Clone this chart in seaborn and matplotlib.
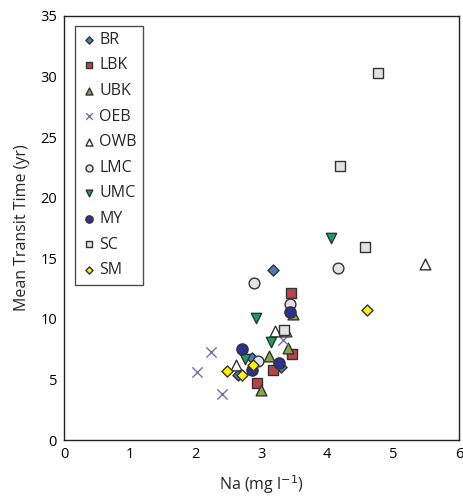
import numpy as np
import pandas as pd
import matplotlib
matplotlib.use("Agg")
import matplotlib.pyplot as plt
import seaborn as sns

sites = ['BR', 'LBK', 'UBK', 'OEB', 'OWB', 'LMC', 'UMC', 'MY', 'SC', 'SM']

# Na (mg/l) and mean transit time (yr) per site
na = {
    'BR':  [3.18, 2.86, 2.64, 3.30],
    'LBK': [3.45, 3.47, 3.17, 2.93],
    'UBK': [3.48, 3.41, 3.12, 3.00],
    'OEB': [2.24, 2.02, 2.40, 3.32],
    'OWB': [5.48, 3.21, 3.37, 2.62],
    'LMC': [4.17, 2.89, 3.44, 2.94],
    'UMC': [4.05, 2.92, 3.15, 2.75],
    'MY':  [3.43, 2.71, 2.86, 3.26],
    'SC':  [4.77, 4.19, 4.57, 3.35],
    'SM':  [4.61, 2.47, 2.70, 2.87],
}
mtt = {
    'BR':  [14.0, 6.8, 5.4, 6.0],
    'LBK': [12.1, 7.1, 5.8, 4.7],
    'UBK': [10.4, 7.6, 6.9, 4.1],
    'OEB': [7.3, 5.6, 3.8, 8.3],
    'OWB': [14.5, 9.0, 9.0, 6.2],
    'LMC': [14.2, 13.0, 11.2, 6.5],
    'UMC': [16.7, 10.1, 8.1, 6.7],
    'MY':  [10.6, 7.5, 5.8, 6.4],
    'SC':  [30.3, 22.6, 15.9, 9.1],
    'SM':  [10.7, 5.7, 5.4, 6.2],
}

colors = {'BR': '#4a7db8', 'LBK': '#b94448', 'UBK': '#8ba64a', 'OEB': '#7a6cb0',
          'OWB': '#ffffff', 'LMC': '#e4e0ea', 'UMC': '#1c9e62', 'MY': '#2a3190',
          'SC': '#e2e2e2', 'SM': '#fff200'}
markers = {'BR': 'D', 'LBK': 's', 'UBK': '^', 'OEB': 'x', 'OWB': '^',
           'LMC': 'o', 'UMC': 'v', 'MY': 'o', 'SC': 's', 'SM': 'D'}
sizes = {'BR': 32, 'LBK': 55, 'UBK': 60, 'OEB': 55, 'OWB': 60,
         'LMC': 60, 'UMC': 55, 'MY': 65, 'SC': 55, 'SM': 32}

rows = []
for s in sites:
    for x, y in zip(na[s], mtt[s]):
        rows.append({'site': s, 'Na': x, 'MTT': y})
df = pd.DataFrame(rows)

sns.set_style("white")
plt.rcParams['font.family'] = ['Open Sans', 'DejaVu Sans']

fig = plt.figure(figsize=(4.64, 4.99), dpi=100)
ax = fig.add_axes([0.138, 0.118, 0.851, 0.850])

for s in sites:
    sub = df[df['site'] == s]
    if markers[s] == 'x':
        sns.scatterplot(data=sub, x='Na', y='MTT', ax=ax, marker='x',
                        color=colors[s], s=sizes[s], linewidth=1.0, label=s)
    else:
        sns.scatterplot(data=sub, x='Na', y='MTT', ax=ax, marker=markers[s],
                        color=colors[s], s=sizes[s], edgecolor='#333333',
                        linewidth=1.0, label=s)

ax.set_xlim(0, 6)
ax.set_ylim(0, 35)
ax.set_xticks(range(0, 7))
ax.set_yticks(range(0, 36, 5))
ax.tick_params(direction='in', length=4, width=0.8, labelsize=10.5,
               colors='black', pad=5)
for sp in ax.spines.values():
    sp.set_color('#222222')
    sp.set_linewidth(1.0)
ax.set_xlabel('Na (mg l$^{-1}$)', fontsize=11.5, labelpad=8)
ax.set_ylabel('Mean Transit Time (yr)', fontsize=11.5, labelpad=7)

leg = ax.legend(loc='upper left', bbox_to_anchor=(0.02, 0.985), frameon=True,
                fancybox=False, edgecolor='#222222', markerscale=0.65,
                fontsize=11.5, handletextpad=0.1, labelspacing=0.6,
                borderpad=0.4, handlelength=1.0, borderaxespad=0.2)
leg.get_frame().set_linewidth(1.0)

fig.savefig('out.png', dpi=100)
